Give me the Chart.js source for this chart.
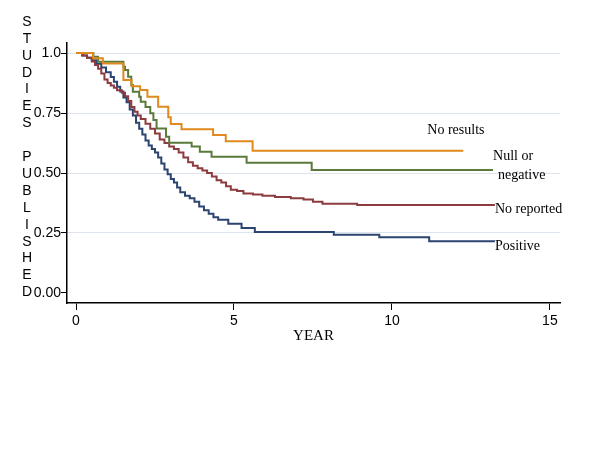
<!DOCTYPE html>
<html>
<head>
<meta charset="utf-8">
<script src="https://cdn.jsdelivr.net/npm/chart.js@4"></script>
<style>
  body { margin: 0; background: #fff; }
  #wrap { width: 600px; height: 450px; }
</style>
</head>
<body>
<div id="wrap"><canvas id="km-chart" width="600" height="450"></canvas></div>
<script>
// Survival steps: [year, share still unpublished]
const noResults = [
  [0, 1], [0.54, 0.978], [0.85, 0.957], [1.5, 0.888], [1.76, 0.862], [2.03, 0.846],
  [2.26, 0.818], [2.6, 0.776], [2.92, 0.732], [3.0, 0.704], [3.34, 0.682],
  [4.34, 0.658], [4.74, 0.632], [5.59, 0.593], [12.26, 0.593]
];
const nullNegative = [
  [0, 1], [0.55, 0.985], [0.7, 0.964], [1.5, 0.943], [1.55, 0.929], [1.65, 0.901],
  [1.75, 0.867], [1.8, 0.839], [2.0, 0.818], [2.05, 0.797], [2.2, 0.775],
  [2.35, 0.749], [2.45, 0.721], [2.55, 0.686], [2.85, 0.651], [2.95, 0.626],
  [3.66, 0.61], [3.92, 0.589], [4.29, 0.568], [5.4, 0.543], [7.46, 0.512], [13.2, 0.512]
];
const noReported = [
  [0, 1], [0.2, 0.99], [0.35, 0.98], [0.5, 0.965], [0.6, 0.95], [0.7, 0.935],
  [0.8, 0.915], [0.9, 0.89], [1.0, 0.875], [1.1, 0.865], [1.2, 0.855], [1.3, 0.845],
  [1.45, 0.835], [1.55, 0.82], [1.65, 0.8], [1.75, 0.775], [1.85, 0.755], [1.95, 0.74],
  [2.05, 0.725], [2.2, 0.705], [2.35, 0.685], [2.5, 0.665], [2.65, 0.64], [2.8, 0.625],
  [2.95, 0.61], [3.1, 0.6], [3.25, 0.585], [3.4, 0.565], [3.55, 0.545], [3.7, 0.53],
  [3.85, 0.52], [4.0, 0.51], [4.15, 0.5], [4.3, 0.485], [4.45, 0.47], [4.6, 0.46],
  [4.75, 0.445], [4.9, 0.43], [5.1, 0.425], [5.3, 0.415], [5.6, 0.41], [5.9, 0.405],
  [6.3, 0.4], [6.8, 0.395], [7.2, 0.39], [7.5, 0.38], [7.8, 0.372], [8.9, 0.367],
  [13.26, 0.367]
];
const positive = [
  [0, 1], [0.2, 0.99], [0.35, 0.98], [0.5, 0.97], [0.65, 0.955], [0.8, 0.94],
  [0.95, 0.92], [1.1, 0.9], [1.2, 0.88], [1.3, 0.86], [1.4, 0.84], [1.5, 0.815],
  [1.6, 0.795], [1.7, 0.765], [1.8, 0.74], [1.9, 0.71], [2.0, 0.685], [2.1, 0.66],
  [2.2, 0.635], [2.3, 0.615], [2.4, 0.6], [2.5, 0.585], [2.6, 0.565], [2.7, 0.54],
  [2.8, 0.515], [2.9, 0.495], [3.0, 0.475], [3.1, 0.46], [3.2, 0.44], [3.3, 0.42],
  [3.45, 0.405], [3.6, 0.395], [3.75, 0.38], [3.9, 0.36], [4.05, 0.345], [4.2, 0.33],
  [4.35, 0.315], [4.5, 0.305], [4.82, 0.288], [5.24, 0.271], [5.66, 0.254],
  [8.16, 0.243], [9.6, 0.232], [11.18, 0.215], [13.26, 0.215]
];

const seriesLabels = [["No results"], ["Null or", "negative"], ["No reported"], ["Positive"]];
const xTicks = [0, 5, 10, 15];
const yTicks = [0, 0.25, 0.5, 0.75, 1];
const yTickLabels = ["0.00", "0.25", "0.50", "0.75", "1.0"];
const yTitle = "STUDIES PUBLISHED";
const xTitle = "YEAR";

const colors = ["#e08a1e", "#5b7a3a", "#8c3b3f", "#2b4470"];
// offsets of each curve label from the end of its line (px)
const labelOffsets = [[-36, -20], [0, -14], [0, 4], [0, 5]];

function toPoints(arr) {
  return arr.map(([x, y]) => ({ x, y }));
}

// stacked letters on the left, end-of-line labels on the right
const textPlugin = {
  id: "kmText",
  afterDatasetsDraw(chart) {
    const ctx = chart.ctx;
    const area = chart.chartArea;
    ctx.save();
    ctx.fillStyle = "#000";
    ctx.font = "14px 'Liberation Sans', Arial, sans-serif";
    ctx.textAlign = "center";
    ctx.textBaseline = "middle";
    const letters = yTitle.split("");
    const step = 16.9;
    letters.forEach((ch, i) => {
      ctx.fillText(ch, 27, 22 + i * step);
    });

    ctx.font = "14px 'Liberation Serif', 'Times New Roman', serif";
    ctx.textAlign = "left";
    chart.data.datasets.forEach((ds, i) => {
      const meta = chart.getDatasetMeta(i);
      const last = meta.data[meta.data.length - 1];
      const lines = seriesLabels[i];
      const [dx, dy] = labelOffsets[i];
      lines.forEach((txt, j) => {
        const ox = j > 0 && i === 1 ? 5 : 0;
        ctx.fillText(txt, last.x + dx + ox, last.y + dy + j * 19);
      });
    });
    ctx.restore();
  }
};

const datasets = [noResults, nullNegative, noReported, positive].map((d, i) => ({
  label: seriesLabels[i].join(" "),
  data: toPoints(d),
  borderColor: colors[i],
  borderWidth: 2,
  stepped: "before",
  pointRadius: 0,
  fill: false
}));

new Chart(document.getElementById("km-chart"), {
  type: "line",
  data: { datasets },
  plugins: [textPlugin],
  options: {
    responsive: false,
    animation: false,
    layout: { padding: { left: 0, top: 43, right: 40, bottom: 105 } },
    plugins: {
      legend: { display: false },
      tooltip: { enabled: false }
    },
    scales: {
      x: {
        type: "linear",
        min: -0.285,
        max: 15.32,
        afterBuildTicks: (scale) => {
          scale.ticks = xTicks.map((v) => ({ value: v }));
        },
        afterFit: (scale) => {
          scale.height = 42;
        },
        ticks: {
          color: "#000",
          padding: 3,
          maxRotation: 0,
          font: { family: "'Liberation Sans', Arial, sans-serif", size: 14 }
        },
        grid: {
          drawOnChartArea: false,
          tickLength: 7,
          tickColor: "#000",
          tickWidth: 1
        },
        border: { color: "#000", width: 1.5 },
        title: {
          display: true,
          text: xTitle,
          color: "#000",
          padding: 0,
          font: { family: "'Liberation Serif', 'Times New Roman', serif", size: 15 }
        }
      },
      y: {
        type: "linear",
        min: -0.042,
        max: 1.042,
        afterBuildTicks: (scale) => {
          scale.ticks = yTicks.map((v) => ({ value: v }));
        },
        afterFit: (scale) => {
          scale.width = 67;
        },
        ticks: {
          color: "#000",
          padding: 0,
          font: { family: "'Liberation Sans', Arial, sans-serif", size: 14 },
          callback: (value) => yTickLabels[yTicks.indexOf(value)]
        },
        grid: {
          color: (c) => (c.tick && c.tick.value === 0 ? "rgba(0,0,0,0)" : "#dde4ee"),
          lineWidth: 1,
          tickLength: 6,
          tickColor: "#000",
          tickWidth: 1
        },
        border: { color: "#000", width: 1.5 }
      }
    }
  }
});
</script>
</body>
</html>
